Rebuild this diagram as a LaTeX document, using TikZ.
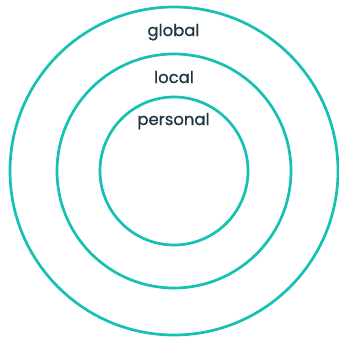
\documentclass[tikz,border=0pt]{standalone}
\usepackage{fontspec}
\setmainfont{Poppins}
\newfontfamily\lblfont[FakeBold=0.7]{Poppins}
\definecolor{ring}{RGB}{22,192,178}
\definecolor{txt}{RGB}{30,52,64}
\begin{document}
\begin{tikzpicture}[x=1bp,y=1bp,
  ringstyle/.style={draw=ring,line width=2.7bp},
  lbl/.style={anchor=base,text=txt,font=\lblfont\fontsize{16.5}{18}\selectfont,inner sep=0pt}]
\useasboundingbox (0,0) rectangle (339,338);
\coordinate (c) at (174,167);
\draw[ringstyle] (c) circle[radius=164];
\draw[ringstyle] (c) circle[radius=117];
\draw[ringstyle] (c) circle[radius=74];
\node[lbl] (global) at (173.5,302) {global};
\node[lbl] (local) at (174,255) {local};
\node[lbl] (personal) at (173.5,213) {personal};
\end{tikzpicture}
\end{document}
